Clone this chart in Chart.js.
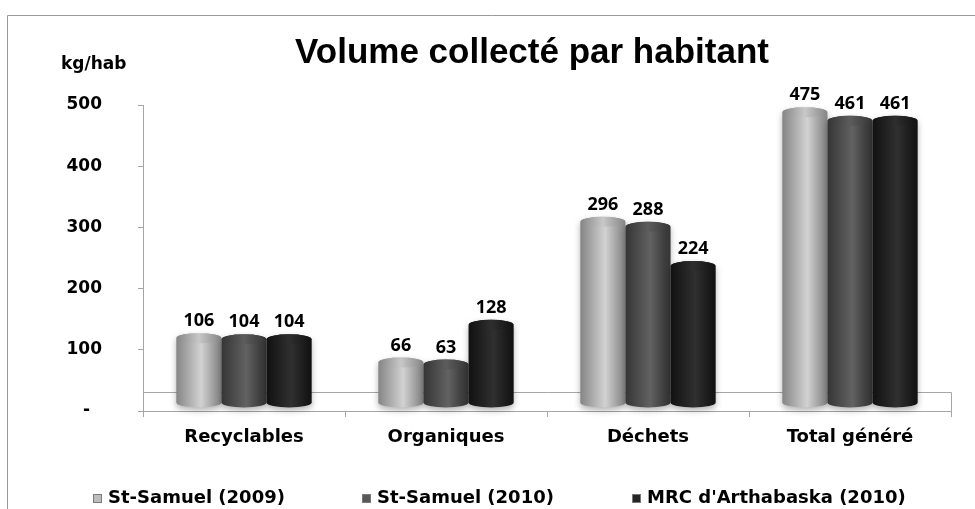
<!DOCTYPE html>
<html>
<head>
<meta charset="utf-8">
<script src="https://cdn.jsdelivr.net/npm/chart.js@4.4.0/dist/chart.umd.min.js"></script>
<style>
  body { margin: 0; background: #fff; }
  canvas { display: block; }
</style>
</head>
<body>
<canvas id="chart" width="975" height="509"></canvas>
<script>
const categories = ['Recyclables', 'Organiques', 'Déchets', 'Total généré'];
const seriesNames = ['St-Samuel (2009)', 'St-Samuel (2010)', "MRC d'Arthabaska (2010)"];
const stSamuel2009 = [106, 66, 296, 475];
const stSamuel2010 = [104, 63, 288, 461];
const mrc2010 = [104, 128, 224, 461];
const yTickLabels = {0: '-  ', 100: '100', 200: '200', 300: '300', 400: '400', 500: '500'};

// shading for each cylinder: [edge, highlight, right edge, top]
const shades = [
    ['#858585', '#d2d2d2', '#9a9a9a', '#c8c8c8'],
    ['#353535', '#626262', '#3e3e3e', '#5c5c5c'],
    ['#111111', '#303030', '#1a1a1a', '#2e2e2e']
];
const legendFill = ['#bdbdbd', '#585858', '#262626'];

const depth = 8;

function cylinder(ctx, x, top, bottom, w, s) {
    const l = x - w / 2, r = x + w / 2, ry = 5;
    const g = ctx.createLinearGradient(l, 0, r, 0);
    g.addColorStop(0, s[0]);
    g.addColorStop(0.55, s[1]);
    g.addColorStop(0.85, s[2]);
    g.addColorStop(1, s[0]);
    ctx.save();
    ctx.shadowColor = 'rgba(0,0,0,0.3)';
    ctx.shadowBlur = 6;
    ctx.shadowOffsetY = 3;
    ctx.beginPath();
    ctx.moveTo(l, top);
    ctx.lineTo(l, bottom);
    ctx.ellipse(x, bottom, w / 2, ry, 0, Math.PI, 0, true);
    ctx.lineTo(r, top);
    ctx.ellipse(x, top, w / 2, ry, 0, 0, Math.PI, true);
    ctx.fillStyle = g;
    ctx.fill();
    ctx.restore();
    const gt = ctx.createLinearGradient(l, 0, r, 0);
    gt.addColorStop(0, s[0]);
    gt.addColorStop(0.5, s[3]);
    gt.addColorStop(1, s[0]);
    ctx.beginPath();
    ctx.ellipse(x, top, w / 2 - 0.5, ry, 0, 0, Math.PI * 2);
    ctx.fillStyle = gt;
    ctx.fill();
}

const cylinders = {
    id: 'cylinders',
    beforeDraw(chart) {
        const ctx = chart.ctx;
        ctx.save();
        ctx.strokeStyle = '#9a9a9a';
        ctx.lineWidth = 1;
        ctx.beginPath();
        ctx.moveTo(7.5, 509);
        ctx.lineTo(7.5, 15.5);
        ctx.lineTo(975, 15.5);
        ctx.stroke();
        ctx.restore();
    },
    beforeDatasetsDraw(chart) {
        const ctx = chart.ctx, a = chart.chartArea;
        const y0 = chart.scales.y.getPixelForValue(0);
        ctx.save();
        ctx.strokeStyle = '#a6a6a6';
        ctx.lineWidth = 1;
        ctx.beginPath();
        ctx.moveTo(a.left, y0 - 19 + 0.5);
        ctx.lineTo(a.right + 0.5, y0 - 19 + 0.5);
        ctx.lineTo(a.right + 0.5, y0);
        ctx.stroke();
        ctx.restore();
    },
    afterDatasetsDraw(chart) {
        const ctx = chart.ctx;
        ctx.save();
        chart.data.datasets.forEach((ds, di) => {
            const meta = chart.getDatasetMeta(di);
            meta.data.forEach((bar, i) => {
                const p = bar.getProps(['x', 'y', 'base', 'width'], true);
                cylinder(ctx, p.x, p.y - depth, p.base - depth, p.width, shades[di]);
            });
        });
        ctx.fillStyle = '#000';
        ctx.font = 'bold 18px "Open Sans"';
        ctx.textAlign = 'center';
        ctx.textBaseline = 'middle';
        chart.data.datasets.forEach((ds, di) => {
            const meta = chart.getDatasetMeta(di);
            meta.data.forEach((bar, i) => {
                const p = bar.getProps(['x', 'y'], true);
                ctx.fillText(String(ds.data[i]), p.x, p.y - 25);
            });
        });
        ctx.restore();
    },
    afterDraw(chart) {
        const ctx = chart.ctx;
        ctx.save();
        ctx.fillStyle = '#000';
        ctx.textBaseline = 'alphabetic';
        ctx.textAlign = 'center';
        ctx.font = 'bold 35px "Liberation Sans"';
        ctx.fillText('Volume collecté par habitant', 532, 63);
        ctx.textAlign = 'left';
        ctx.font = 'bold 17px "DejaVu Sans"';
        ctx.fillText('kg/hab', 61, 69);
        // legend
        const lx = [93, 362, 632];
        ctx.font = 'bold 18px "DejaVu Sans"';
        ctx.textBaseline = 'middle';
        chart.data.datasets.forEach((ds, di) => {
            ctx.fillStyle = legendFill[di];
            ctx.fillRect(lx[di], 494, 9, 9);
            ctx.strokeStyle = '#7a7a7a';
            ctx.strokeRect(lx[di] + 0.5, 494.5, 8, 8);
            ctx.fillStyle = '#000';
            ctx.fillText(ds.label, lx[di] + 15, 498);
        });
        ctx.restore();
    }
};

new Chart(document.getElementById('chart'), {
    type: 'bar',
    data: {
        labels: categories,
        datasets: [
            {label: seriesNames[0], data: stSamuel2009},
            {label: seriesNames[1], data: stSamuel2010},
            {label: seriesNames[2], data: mrc2010}
        ].map(d => Object.assign(d, {
            backgroundColor: 'rgba(0,0,0,0)',
            borderWidth: 0,
            categoryPercentage: 0.67,
            barPercentage: 1
        }))
    },
    options: {
        responsive: false,
        animation: false,
        layout: {padding: {left: 0, top: 105, right: 24, bottom: 0}},
        plugins: {
            legend: {display: false},
            title: {display: false},
            tooltip: {enabled: false}
        },
        scales: {
            x: {
                offset: true,
                grid: {offset: true, drawOnChartArea: false, tickLength: 6, color: '#a6a6a6'},
                border: {color: '#a6a6a6'},
                ticks: {color: '#000', font: {family: 'DejaVu Sans', size: 18, weight: 'bold'}, padding: 10},
                afterFit(s) { s.height = 98; }
            },
            y: {
                min: 0,
                max: 500,
                ticks: {
                    stepSize: 100,
                    color: '#000',
                    padding: 36,
                    font: {family: 'DejaVu Sans', size: 17, weight: 'bold'},
                    callback: v => yTickLabels[v]
                },
                grid: {drawOnChartArea: false, tickLength: 5, color: '#a6a6a6'},
                border: {color: '#a6a6a6'},
                afterFit(s) { s.width = 143; }
            }
        }
    },
    plugins: [cylinders]
});
</script>
</body>
</html>
